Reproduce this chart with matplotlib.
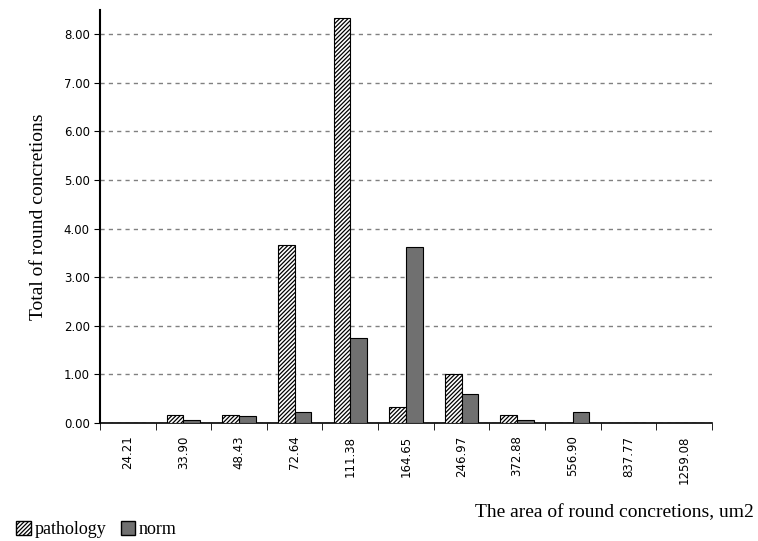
import matplotlib.pyplot as plt
import numpy as np
from matplotlib.patches import Patch

# valores
categories = ["24.21", "33.90", "48.43", "72.64", "111.38", "164.65",
              "246.97", "372.88", "556.90", "837.77", "1259.08"]
pathology = [0, 0.17, 0.17, 3.67, 8.33, 0.33, 1.00, 0.17, 0, 0, 0]
norm = [0, 0.06, 0.15, 0.22, 1.75, 3.62, 0.60, 0.06, 0.22, 0, 0]

plt.rcParams['hatch.linewidth'] = 0.9

fig = plt.figure(figsize=(7.58, 5.41), dpi=100)
ax = fig.add_axes([0.132, 0.218, 0.807, 0.764])

x = np.arange(len(categories))
w = 0.3
ax.bar(x - w / 2, pathology, w, color='white', edgecolor='black',
       hatch='////////', linewidth=0.8, zorder=3, label='pathology')
ax.bar(x + w / 2, norm, w, color='#707070', edgecolor='black',
       linewidth=0.8, zorder=3, label='norm')

ax.set_xlim(-0.5, len(categories) - 0.5)
ax.set_ylim(0, 8.5)
ax.set_yticks(np.arange(0, 9, 1))
ax.set_yticklabels([f"{v:.2f}" for v in range(9)], fontsize=8.5)
ax.yaxis.grid(True, color='#808080', linestyle=(0, (3, 3)), linewidth=1)

# marcas entre as categorias, rótulos no centro
ax.set_xticks(x)
ax.set_xticklabels(categories, rotation=90, fontsize=8.5)
ax.tick_params(axis='x', which='major', length=0, pad=9)
ax.set_xticks(np.arange(-0.5, len(categories), 1), minor=True)
ax.tick_params(axis='x', which='minor', length=5, direction='out')
ax.tick_params(axis='y', length=4, direction='out')

for s in ['top', 'right']:
    ax.spines[s].set_visible(False)
ax.spines['left'].set_linewidth(1.5)
ax.spines['bottom'].set_linewidth(1.2)

ax.set_ylabel("Total of round concretions", fontsize=14,
              family='Liberation Serif', labelpad=12)
fig.text(0.995, 0.037, "The area of round concretions, um2", fontsize=14,
         family='Liberation Serif', ha='right', va='bottom')

handles = [Patch(facecolor='white', edgecolor='black', hatch='////////', label='pathology'),
           Patch(facecolor='#707070', edgecolor='black', label='norm')]
fig.legend(handles=handles, loc='lower left', bbox_to_anchor=(0.0, -0.025), ncol=2,
           frameon=False, prop={'family': 'Liberation Serif', 'size': 13},
           handlelength=0.8, handleheight=0.8, handletextpad=0.2, columnspacing=0.8)

plt.savefig('out.png', dpi=100)
